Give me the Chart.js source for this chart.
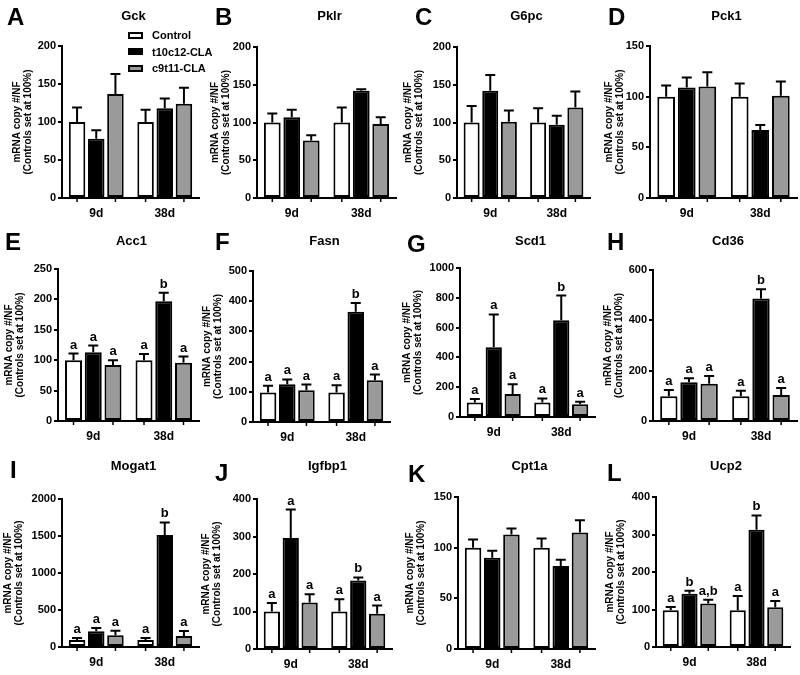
<!DOCTYPE html>
<html>
<head>
<meta charset="utf-8">
<script src="https://cdn.jsdelivr.net/npm/chart.js@4.4.0/dist/chart.umd.min.js"></script>
<style>
  body { margin: 0; background: #fff; }
  #fig { position: relative; width: 800px; height: 675px; }
  .panel { position: absolute; width: 200px; height: 225px; }
  #legend { position: absolute; left: 128px; top: 27px; z-index: 5;
            font: bold 11px "Liberation Sans", Arial, sans-serif; color: #000; }
  .item { display: flex; align-items: center; height: 16.5px; }
  .sw { width: 11px; height: 3px; border: 2px solid #000; margin-right: 9px; }
</style>
</head>
<body>
<div id="fig">
  <div id="legend"></div>
</div>
<script>
// groups and series
const groups = ['9d', '38d'];
const seriesNames = ['Control', 't10c12-CLA', 'c9t11-CLA'];
const seriesFills = ['#ffffff', '#000000', '#9a9a9a'];
const yTitle = ['mRNA copy #/NF', '(Controls set at 100%)'];

// means and SEM, one row per series: [9d, 38d]
const gckMean = [[100, 100], [78, 118], [137, 124]];
const gckSem = [[19, 16], [11, 13], [26, 21]];
const pklrMean = [[100, 100], [107, 142], [76, 98]];
const pklrSem = [[12, 20], [10, 2], [7, 9]];
const g6pcMean = [[100, 100], [142, 97], [101, 120]];
const g6pcSem = [[22, 19], [21, 12], [15, 21]];
const pck1Mean = [[100, 100], [109, 67], [110, 101]];
const pck1Sem = [[11, 13], [10, 5], [14, 14]];
const acc1Mean = [[100, 100], [113, 197], [92, 96]];
const acc1Sem = [[11, 10], [11, 14], [8, 10]];
const acc1Letters = [['a', 'a'], ['a', 'b'], ['a', 'a']];
const fasnMean = [[98, 98], [125, 365], [105, 138]];
const fasnSem = [[22, 24], [16, 29], [19, 19]];
const fasnLetters = [['a', 'a'], ['a', 'b'], ['a', 'a']];
const scd1Mean = [[98, 98], [468, 650], [155, 85]];
const scd1Sem = [[22, 27], [220, 165], [64, 18]];
const scd1Letters = [['a', 'a'], ['a', 'b'], ['a', 'a']];
const cd36Mean = [[98, 98], [154, 487], [148, 103]];
const cd36Sem = [[25, 22], [16, 37], [31, 28]];
const cd36Letters = [['a', 'a'], ['a', 'b'], ['a', 'a']];
const mogat1Mean = [[95, 95], [214, 1514], [160, 150]];
const mogat1Sem = [[25, 25], [42, 170], [58, 65]];
const mogat1Letters = [['a', 'a'], ['a', 'b'], ['a', 'a']];
const igfbp1Mean = [[100, 100], [296, 183], [124, 94]];
const igfbp1Sem = [[23, 33], [76, 8], [22, 22]];
const igfbp1Letters = [['a', 'a'], ['a', 'b'], ['a', 'a']];
const cpt1aMean = [[100, 100], [90, 82], [113, 115]];
const cpt1aSem = [[8, 9], [7, 6], [6, 12]];
const ucp2Mean = [[98, 98], [142, 313], [116, 106]];
const ucp2Sem = [[9, 38], [8, 38], [10, 17]];
const ucp2Letters = [['a', 'a'], ['b', 'b'], ['a,b', 'a']];

const FONT = '"Liberation Sans", Arial, sans-serif';

// panel table: data + axis range + where the plot sits in its 200x225 cell
// box = [axis left, plot top, plot bottom, plot right], ytX = centre of first y-title line
const panels = [
  { tag: 'A', gene: 'Gck',    mean: gckMean,    sem: gckSem,    letters: null,          max: 200,  step: 50,  box: [62, 46, 198, 199], ytX: 17, tagX: 7,  tagY: 25 },
  { tag: 'B', gene: 'Pklr',   mean: pklrMean,   sem: pklrSem,   letters: null,          max: 200,  step: 50,  box: [57, 47, 198, 196], ytX: 15, tagX: 15, tagY: 25 },
  { tag: 'C', gene: 'G6pc',   mean: g6pcMean,   sem: g6pcSem,   letters: null,          max: 200,  step: 50,  box: [57, 47, 198, 190], ytX: 8,  tagX: 15, tagY: 25 },
  { tag: 'D', gene: 'Pck1',   mean: pck1Mean,   sem: pck1Sem,   letters: null,          max: 150,  step: 50,  box: [50, 46, 198, 197], ytX: 9,  tagX: 8,  tagY: 25 },
  { tag: 'E', gene: 'Acc1',   mean: acc1Mean,   sem: acc1Sem,   letters: acc1Letters,   max: 250,  step: 50,  box: [58, 44, 196, 199], ytX: 9,  tagX: 5,  tagY: 25 },
  { tag: 'F', gene: 'Fasn',   mean: fasnMean,   sem: fasnSem,   letters: fasnLetters,   max: 500,  step: 100, box: [53, 46, 197, 190], ytX: 7,  tagX: 15, tagY: 25 },
  { tag: 'G', gene: 'Scd1',   mean: scd1Mean,   sem: scd1Sem,   letters: scd1Letters,   max: 1000, step: 200, box: [60, 43, 192, 195], ytX: 7,  tagX: 7,  tagY: 27 },
  { tag: 'H', gene: 'Cd36',   mean: cd36Mean,   sem: cd36Sem,   letters: cd36Letters,   max: 600,  step: 200, box: [53, 45, 196, 197], ytX: 8,  tagX: 7,  tagY: 25 },
  { tag: 'I', gene: 'Mogat1', mean: mogat1Mean, sem: mogat1Sem, letters: mogat1Letters, max: 2000, step: 500, box: [62, 49, 197, 199], ytX: 8,  tagX: 10, tagY: 28 },
  { tag: 'J', gene: 'Igfbp1', mean: igfbp1Mean, sem: igfbp1Sem, letters: igfbp1Letters, max: 400,  step: 100, box: [57, 49, 199, 192], ytX: 6,  tagX: 15, tagY: 31 },
  { tag: 'K', gene: 'Cpt1a',  mean: cpt1aMean,  sem: cpt1aSem,  letters: null,          max: 150,  step: 50,  box: [58, 47, 199, 195], ytX: 10, tagX: 8,  tagY: 32 },
  { tag: 'L', gene: 'Ucp2',   mean: ucp2Mean,   sem: ucp2Sem,   letters: ucp2Letters,   max: 400,  step: 100, box: [56, 47, 197, 190], ytX: 10, tagX: 7,  tagY: 31 }
];

// error bars, significance letters, x tick marks, panel tag and gene title
const panelDeco = {
  id: 'panelDeco',
  afterDatasetsDraw(chart) {
    const ctx = chart.ctx;
    const ys = chart.scales.y;
    const area = chart.chartArea;
    ctx.save();
    ctx.strokeStyle = '#000';
    ctx.fillStyle = '#000';
    chart.data.datasets.forEach((ds, i) => {
      chart.getDatasetMeta(i).data.forEach((bar, j) => {
        const top = ys.getPixelForValue(ds.data[j] + ds.sem[j]);
        ctx.lineWidth = 2;
        ctx.beginPath();
        ctx.moveTo(bar.x, bar.y);
        ctx.lineTo(bar.x, top);
        ctx.moveTo(bar.x - 5, top);
        ctx.lineTo(bar.x + 5, top);
        ctx.stroke();
        if (ds.letters) {
          ctx.font = 'bold 13px ' + FONT;
          ctx.textAlign = 'center';
          ctx.textBaseline = 'alphabetic';
          ctx.fillText(ds.letters[j], bar.x, top - 5);
        }
        if (i !== 1) {
          ctx.lineWidth = 1.5;
          ctx.beginPath();
          ctx.moveTo(bar.x, area.bottom);
          ctx.lineTo(bar.x, area.bottom + 4);
          ctx.stroke();
        }
      });
    });
    ctx.restore();
  },
  afterDraw(chart, args, opts) {
    const ctx = chart.ctx;
    const area = chart.chartArea;
    ctx.save();
    ctx.fillStyle = '#000';
    ctx.textBaseline = 'alphabetic';
    ctx.textAlign = 'left';
    ctx.font = 'bold 24px ' + FONT;
    ctx.fillText(opts.tag, opts.tagX, opts.tagY);
    ctx.textAlign = 'center';
    ctx.font = 'bold 13px ' + FONT;
    ctx.fillText(opts.gene, (area.left + area.right) / 2 + 3, 20);
    ctx.restore();
  }
};

const fig = document.getElementById('fig');

panels.forEach((p, k) => {
  const cell = document.createElement('div');
  cell.className = 'panel';
  cell.style.left = (k % 4) * 200 + 'px';
  cell.style.top = Math.floor(k / 4) * 225 + 'px';
  const canvas = document.createElement('canvas');
  canvas.width = 200;
  canvas.height = 225;
  cell.appendChild(canvas);
  fig.appendChild(cell);

  const [left, top, bottom, right] = p.box;
  const xAxisH = 30;
  const titleLH = 11.5;

  new Chart(canvas.getContext('2d'), {
    type: 'bar',
    data: {
      labels: groups,
      datasets: seriesNames.map((name, i) => ({
        label: name,
        data: p.mean[i],
        sem: p.sem[i],
        letters: p.letters ? p.letters[i] : null,
        backgroundColor: seriesFills[i],
        borderColor: '#000',
        borderWidth: 2,
        borderSkipped: false,
        categoryPercentage: 0.84,
        barPercentage: 0.86
      }))
    },
    options: {
      responsive: false,
      animation: false,
      layout: { padding: { top: top, left: 0, right: 200 - right, bottom: 225 - bottom - xAxisH } },
      plugins: {
        legend: { display: false },
        tooltip: { enabled: false },
        panelDeco: { tag: p.tag, gene: p.gene, tagX: p.tagX, tagY: p.tagY }
      },
      scales: {
        x: {
          offset: true,
          grid: { display: false, drawTicks: false },
          border: { display: true, color: '#000', width: 2 },
          ticks: { color: '#000', font: { family: FONT, weight: 'bold', size: 12 }, padding: 8 },
          afterFit(s) { s.height = xAxisH; }
        },
        y: {
          min: 0,
          max: p.max,
          ticks: { stepSize: p.step, autoSkip: false, color: '#000', padding: 2,
                   font: { family: FONT, weight: 'bold', size: 11 },
                   callback: v => String(v) },
          grid: { display: true, drawOnChartArea: false, drawTicks: true, tickLength: 4,
                  color: '#000', lineWidth: 2 },
          border: { display: true, color: '#000', width: 2 },
          title: { display: true, text: yTitle, color: '#000',
                   font: { family: FONT, weight: 'bold', size: 10, lineHeight: titleLH / 10 },
                   padding: { top: p.ytX - titleLH / 2, bottom: 0 } },
          afterFit(s) { s.width = left; }
        }
      }
    },
    plugins: [panelDeco]
  });
});

// legend shown in panel A
const legend = document.getElementById('legend');
seriesNames.forEach((name, i) => {
  const row = document.createElement('div');
  row.className = 'item';
  const sw = document.createElement('span');
  sw.className = 'sw';
  sw.style.background = seriesFills[i];
  const txt = document.createElement('span');
  txt.textContent = name;
  row.appendChild(sw);
  row.appendChild(txt);
  legend.appendChild(row);
});
</script>
</body>
</html>
